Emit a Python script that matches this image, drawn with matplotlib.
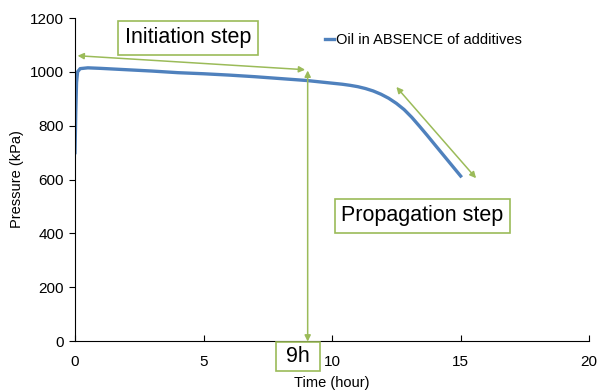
import matplotlib
matplotlib.use("Agg")
import matplotlib.pyplot as plt

plt.rcParams['font.family'] = ['Liberation Sans', 'DejaVu Sans']

# data
time_h = [0, 0.03, 0.06, 0.1, 0.2, 0.5, 1, 2, 3, 4, 5, 6, 7, 8, 9, 9.5, 10, 10.4,
          10.7, 11, 11.3, 11.6, 11.9, 12.2, 12.5, 12.8, 13.1, 13.4, 13.7, 14, 14.5, 15]
pressure = [700, 850, 960, 1000, 1012, 1015, 1013, 1008, 1003, 997, 993, 988, 982,
            975, 968, 963, 958, 954, 950, 945, 938, 929, 917, 902, 883, 860, 831,
            798, 764, 729, 671, 613]
series_label = "Oil in ABSENCE of additives"

green = '#9BBB59'
blue = '#4F81BD'

fig = plt.figure(figsize=(6, 3.92), dpi=100)
ax = fig.add_axes([0.125, 0.130, 0.857, 0.824])
ax.plot(time_h, pressure, color=blue, lw=2.4, label=series_label)

ax.set_xlim(0, 20)
ax.set_ylim(0, 1200)
ax.set_xticks([0, 5, 10, 15, 20])
ax.set_yticks(range(0, 1201, 200))
for s in ['top', 'right']:
    ax.spines[s].set_visible(False)
ax.tick_params(axis='x', direction='in', labelsize=11, length=4, pad=10)
ax.tick_params(axis='y', direction='out', labelsize=11, length=4, pad=4)
ax.set_xlabel('Time (hour)', fontsize=10.5, labelpad=5)
ax.set_ylabel('Pressure (kPa)', fontsize=10.5, labelpad=4)

leg = ax.legend(loc='upper left', bbox_to_anchor=(0.46, 0.995), frameon=False,
                fontsize=10.5, handlelength=0.65, handletextpad=0.1)

arrow = dict(arrowstyle='<|-|>', color=green, lw=1.1, mutation_scale=9, shrinkA=0, shrinkB=0)
# initiation arrow
ax.annotate('', xy=(0.1, 1060), xytext=(8.95, 1008), arrowprops=arrow, annotation_clip=False)
# 9h vertical arrow
ax.annotate('', xy=(9.05, 1005), xytext=(9.05, -2), arrowprops=arrow, annotation_clip=False)
# propagation arrow
ax.annotate('', xy=(12.5, 944), xytext=(15.6, 605), arrowprops=arrow, annotation_clip=False)

box = dict(boxstyle='square,pad=0.3', fc='white', ec=green, lw=1.2)
ax.text(4.4, 1126, 'Initiation step', fontsize=15.5, ha='center', va='center', bbox=box)
ax.text(13.5, 465, 'Propagation step', fontsize=15.5, ha='center', va='center', bbox=box)
ax.text(8.68, -58, ' 9h ', fontsize=15.5, ha='center', va='center',
        bbox=dict(boxstyle='square,pad=0.2', fc='white', ec=green, lw=1.2), zorder=5)

fig.savefig('out.png', dpi=100)
